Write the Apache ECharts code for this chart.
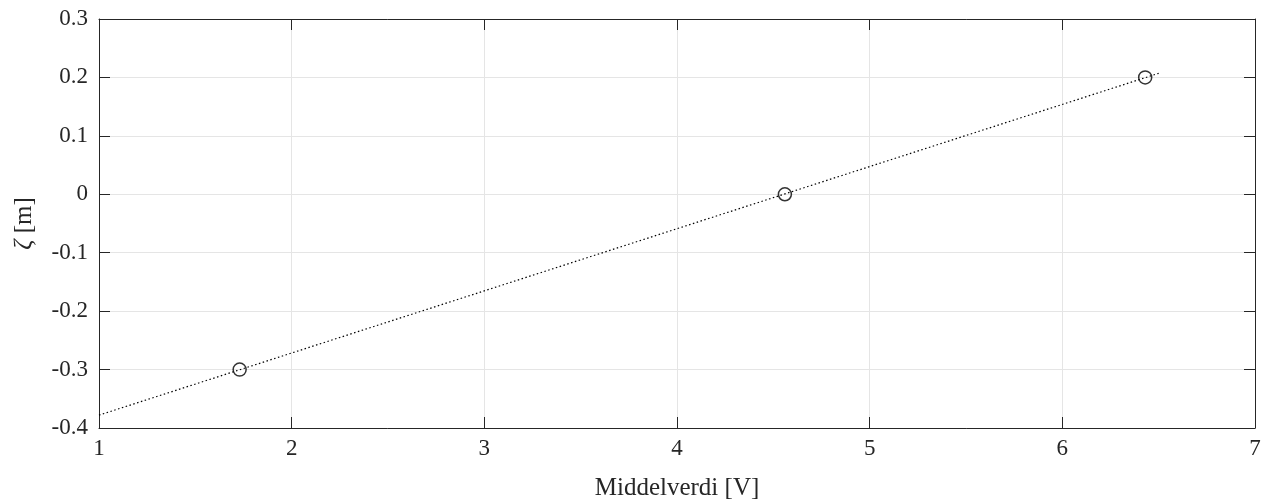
<!DOCTYPE html>
<html>
<head>
<meta charset="utf-8">
<script src="https://cdn.jsdelivr.net/npm/echarts@6/dist/echarts.min.js"></script>
<style>
	html, body { margin: 0; padding: 0; background: #fff; }
	#chart { width: 1266px; height: 500px; }
</style>
</head>
<body>
<div id="chart"></div>
<script>
	// målepunkter
	var pointX = [1.73, 4.56, 6.43];
	var pointY = [-0.3, 0, 0.2];
	// tilpasset linje
	var fitX = [1, 6.5];
	var fitY = [-0.378, 0.207];

	var serif = 'Liberation Serif';
	var axisCol = '#262626';

	var myChart = echarts.init(document.getElementById('chart'));

	function axisBase(show) {
		return {
			axisLine: { show: true, onZero: false, lineStyle: { color: axisCol, width: 1 } },
			axisTick: { show: true, inside: true, length: 11, lineStyle: { color: axisCol } },
			axisLabel: { show: show, color: axisCol, fontFamily: serif, fontSize: 23 },
			splitLine: { show: show, lineStyle: { color: '#e5e5e5', width: 1 } }
		};
	}

	var x0 = Object.assign({
		type: 'value', min: 1, max: 7, interval: 1,
		name: 'Middelverdi [V]', nameLocation: 'middle', nameGap: 48,
		nameTextStyle: { color: axisCol, fontFamily: serif, fontSize: 25 }
	}, axisBase(true));
	x0.axisLabel.margin = 9;

	var x1 = Object.assign({ type: 'value', min: 1, max: 7, interval: 1, position: 'top' }, axisBase(false));

	var y0 = Object.assign({
		type: 'value', min: -0.4, max: 0.3, interval: 0.1,
		name: '{z|ζ} [m]', nameLocation: 'middle', nameGap: 62,
		nameTextStyle: {
			color: axisCol, fontFamily: serif, fontSize: 25,
			rich: { z: { fontFamily: serif, fontStyle: 'italic', fontSize: 25, color: axisCol } }
		}
	}, axisBase(true));
	y0.axisLabel.margin = 11;
	y0.axisLabel.formatter = function (v) { return String(Math.round(v * 10) / 10); };

	var y1 = Object.assign({ type: 'value', min: -0.4, max: 0.3, interval: 0.1, position: 'right' }, axisBase(false));

	var option = {
		animation: false,
		grid: { left: 99, right: 11, top: 19, bottom: 72, containLabel: false, outerBoundsMode: 'none' },
		xAxis: [x0, x1],
		yAxis: [y0, y1],
		series: [{
			type: 'line',
			data: fitX.map(function (x, i) { return [x, fitY[i]]; }),
			showSymbol: false,
			lineStyle: { color: '#000', width: 1.2, type: [1.5, 2.5] },
			z: 2
		}, {
			type: 'scatter',
			data: pointX.map(function (x, i) { return [x, pointY[i]]; }),
			symbol: 'circle',
			symbolSize: 13,
			itemStyle: { color: 'rgba(0,0,0,0)', borderColor: '#000', borderWidth: 1.5 },
			z: 3
		}]
	};

	myChart.setOption(option);
</script>
</body>
</html>
